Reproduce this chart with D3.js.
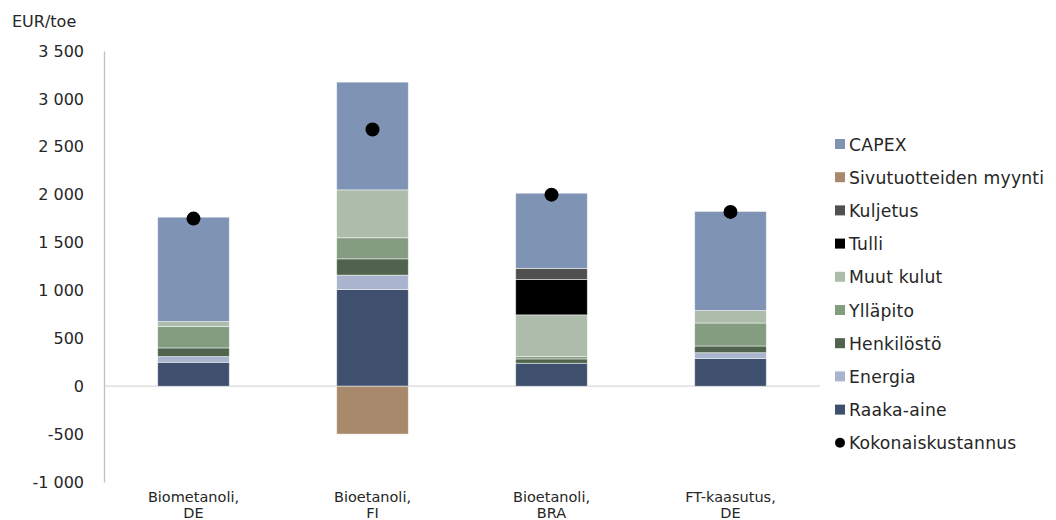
<!DOCTYPE html>
<html><head><meta charset="utf-8">
<script src="https://cdn.jsdelivr.net/npm/d3@7"></script>
<style>body{margin:0;background:#fff}svg{display:block;font-family:"DejaVu Sans",Verdana,sans-serif}</style>
</head><body><svg id="c" width="1056" height="520"></svg>
<script>
const categories = [["Biometanoli,","DE"],["Bioetanoli,","FI"],["Bioetanoli,","BRA"],["FT-kaasutus,","DE"]];
const seriesNames = ["Raaka-aine","Energia","Henkilöstö","Ylläpito","Muut kulut","Tulli","Kuljetus","Sivutuotteiden myynti","CAPEX"];
const raakaAine = [250, 1010, 240, 290];
const energia = [60, 150, 0, 60];
const henkilosto = [90, 170, 45, 70];
const yllapito = [225, 220, 25, 240];
const muutKulut = [50, 500, 435, 130];
const tulli = [0, 0, 370, 0];
const kuljetus = [0, 0, 115, 0];
const sivutuotteet = [0, -500, 0, 0];
const capex = [1090, 1125, 785, 1035];
const kokonais = [1750, 2680, 2000, 1820];
const yTicks = [-1000,-500,0,500,1000,1500,2000,2500,3000,3500];
const legendOrder = ["CAPEX","Sivutuotteiden myynti","Kuljetus","Tulli","Muut kulut","Ylläpito","Henkilöstö","Energia","Raaka-aine","Kokonaiskustannus"];
const colors = {"CAPEX":"#7f93b5","Sivutuotteiden myynti":"#a8896c","Kuljetus":"#505050","Tulli":"#000000","Muut kulut":"#adbcab","Ylläpito":"#849c80","Henkilöstö":"#50634c","Energia":"#a9b5cf","Raaka-aine":"#3f506f"};

const seriesValues = [raakaAine, energia, henkilosto, yllapito, muutKulut, tulli, kuljetus, sivutuotteet, capex];
const svg = d3.select("#c");
const x = d3.scaleBand().domain(d3.range(categories.length)).range([104, 820]).paddingInner(0.6).paddingOuter(0.3);
const y = d3.scaleLinear().domain([-1000, 3500]).range([482, 51]);
const fmt = v => d3.format(",")(v).replace(/,/g, " ").replace(/\u2212/g, "-");

// zero line
svg.append("line").attr("x1",104).attr("x2",820).attr("y1",y(0)).attr("y2",y(0)).attr("stroke","#d9d9d9").attr("stroke-width",1.3);

// y axis
const yAxis = d3.axisLeft(y).tickValues(yTicks).tickFormat(fmt).tickSize(0).tickPadding(20);
const ga = svg.append("g").attr("transform","translate(104,0)").call(yAxis);
ga.select(".domain").attr("stroke","#bfbfbf").attr("stroke-width",1.3);
ga.selectAll("text").attr("font-size",16).attr("fill","#262626").attr("font-family","DejaVu Sans, Verdana, sans-serif");

svg.append("text").attr("x",12).attr("y",27).attr("font-size",16).attr("fill","#262626").text("EUR/toe");

// stacked bars
categories.forEach((c, i) => {
  let pos = 0, neg = 0;
  seriesNames.forEach((s, k) => {
    const v = seriesValues[k][i];
    if (!v) return;
    let y0, y1;
    if (v > 0) { y0 = pos; y1 = pos + v; pos = y1; } else { y0 = neg + v; y1 = neg; neg = y0; }
    svg.append("rect").attr("x", x(i)).attr("width", x.bandwidth())
      .attr("y", y(y1)).attr("height", y(y0) - y(y1))
      .attr("fill", colors[s]).attr("stroke","#ffffff").attr("stroke-opacity",0.6).attr("stroke-width",0.8);
  });
});

// total dots
svg.selectAll("circle.tot").data(kokonais).enter().append("circle")
  .attr("cx",(d,i)=>x(i)+x.bandwidth()/2).attr("cy",d=>y(d)).attr("r",7).attr("fill","#000");

// x labels
categories.forEach((c, i) => {
  const t = svg.append("text").attr("text-anchor","middle").attr("font-size",14.5).attr("fill","#262626");
  t.append("tspan").attr("x", x(i)+x.bandwidth()/2).attr("y",502).text(c[0]);
  t.append("tspan").attr("x", x(i)+x.bandwidth()/2).attr("y",518).text(c[1]);
});

// legend
legendOrder.forEach((s, k) => {
  const cy = 144 + k*33.2;
  if (s === "Kokonaiskustannus") {
    svg.append("circle").attr("cx",840).attr("cy",cy).attr("r",5).attr("fill","#000");
  } else {
    svg.append("rect").attr("x",835).attr("y",cy-5).attr("width",10).attr("height",10).attr("fill",colors[s]);
  }
  svg.append("text").attr("x",849).attr("y",cy+6.5).attr("font-size",17.2).attr("letter-spacing",0.2).attr("fill","#262626").text(s);
});
</script></body></html>
